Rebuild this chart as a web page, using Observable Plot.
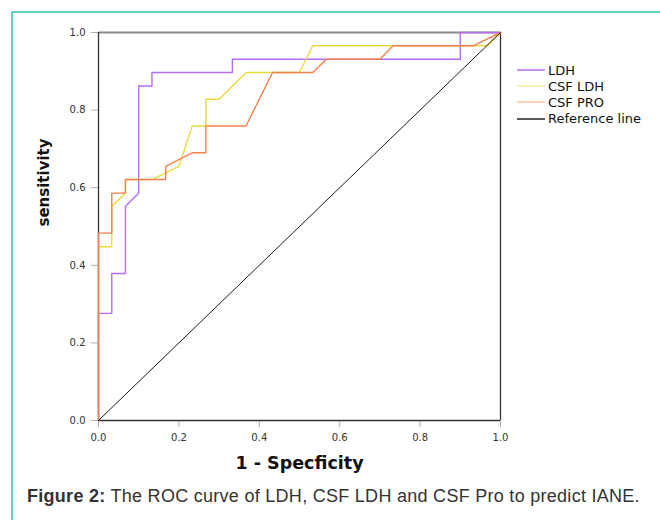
<!DOCTYPE html>
<html>
<head>
<meta charset="utf-8">
<script src="https://cdn.jsdelivr.net/npm/d3@7"></script>
<script src="https://cdn.jsdelivr.net/npm/@observablehq/plot@0.6"></script>
<style>
  html, body { margin: 0; padding: 0; background: #fff; width: 660px; height: 520px; overflow: hidden; position: relative; }
  #border { position: absolute; left: 11px; top: 11px; width: 700px; height: 600px; border-left: 2px solid #5ed6c3; border-top: 2px solid #5ed6c3; }
  #chart { position: absolute; left: 0; top: 0; }
  #legend { position: absolute; left: 517px; top: 62px; font-family: "DejaVu Sans", sans-serif; font-size: 13px; color: #111; }
  #legend .row { height: 16.2px; display: flex; align-items: center; }
  #legend svg { margin-right: 3px; }
  #caption { position: absolute; left: 27px; top: 486px; font-family: "Liberation Sans", Arial, sans-serif; font-size: 18px; letter-spacing: 0.28px; color: #333; white-space: nowrap; }
</style>
</head>
<body>
<div id="border"></div>
<div id="chart"></div>
<div id="legend"></div>
<div id="caption"><b>Figure 2:</b> The ROC curve of LDH, CSF LDH and CSF Pro to predict IANE.</div>
<script>
const seriesNames = ["LDH", "CSF LDH", "CSF PRO", "Reference line"];
const seriesColors = ["#b36cf5", "#e9dc3c", "#f5804f", "#000000"];
const legendColors = ["#a05ce8", "#f1eb8a", "#ffb39e", "#000000"];

const ldhX = [0, 0, 0.033, 0.033, 0.067, 0.067, 0.1, 0.1, 0.133, 0.133, 0.333, 0.333, 0.9, 0.9, 1];
const ldhY = [0, 0.276, 0.276, 0.379, 0.379, 0.552, 0.586, 0.862, 0.862, 0.897, 0.897, 0.931, 0.931, 1, 1];

const csfLdhX = [0, 0, 0.033, 0.033, 0.067, 0.067, 0.133, 0.2, 0.233, 0.267, 0.267, 0.3, 0.367, 0.5, 0.533, 0.967, 1];
const csfLdhY = [0, 0.448, 0.448, 0.552, 0.586, 0.621, 0.621, 0.655, 0.759, 0.759, 0.828, 0.828, 0.897, 0.897, 0.966, 0.966, 1];

const csfProX = [0, 0, 0.033, 0.033, 0.067, 0.067, 0.167, 0.167, 0.233, 0.267, 0.267, 0.367, 0.433, 0.533, 0.567, 0.7, 0.733, 0.933, 1];
const csfProY = [0, 0.483, 0.483, 0.586, 0.586, 0.621, 0.621, 0.655, 0.69, 0.69, 0.759, 0.759, 0.897, 0.897, 0.931, 0.931, 0.966, 0.966, 1];

const refX = [0, 1];
const refY = [0, 1];

const tickValues = [0, 0.2, 0.4, 0.6, 0.8, 1.0];
const xTitle = "1 - Specficity";
const yTitle = "sensitivity";

const pts = (xs, ys) => xs.map((x, i) => ({x, y: ys[i]}));

const plot = Plot.plot({
  width: 660,
  height: 480,
  marginLeft: 98,
  marginRight: 160,
  marginTop: 32,
  marginBottom: 60,
  style: { fontFamily: "DejaVu Sans, sans-serif", fontSize: "10px", color: "#333", background: "transparent" },
  x: { domain: [0, 1] },
  y: { domain: [0, 1] },
  marks: [
    Plot.axisX({ ticks: tickValues, tickFormat: d3.format(".1f"), tickSize: 7, tickPadding: 6, stroke: "#b0b0b0", fill: "#333", label: null }),
    Plot.axisY({ ticks: tickValues, tickFormat: d3.format(".1f"), tickSize: 7, tickPadding: 6, stroke: "#b0b0b0", fill: "#333", label: null }),
    Plot.ruleY([1], { stroke: "#8a8a8a", strokeWidth: 2 }),
    Plot.ruleX([1], { stroke: "#333", strokeWidth: 1.3 }),
    Plot.ruleY([0], { stroke: "#333", strokeWidth: 1.3 }),
    Plot.ruleX([0], { stroke: "#333", strokeWidth: 1.3 }),
    Plot.line(pts(ldhX, ldhY), { x: "x", y: "y", stroke: seriesColors[0], strokeWidth: 1.4 }),
    Plot.line(pts(csfLdhX, csfLdhY), { x: "x", y: "y", stroke: seriesColors[1], strokeWidth: 1.4 }),
    Plot.line(pts(csfProX, csfProY), { x: "x", y: "y", stroke: seriesColors[2], strokeWidth: 1.4 }),
    Plot.line(pts(refX, refY), { x: "x", y: "y", stroke: seriesColors[3], strokeWidth: 0.9 }),
    Plot.text([xTitle], { frameAnchor: "bottom", dy: 48, text: d => d, fontSize: 17.5, fontWeight: "bold", fill: "#111" }),
    Plot.text([yTitle], { frameAnchor: "left", dx: -54, rotate: -90, text: d => d, fontSize: 15, fontWeight: "bold", fill: "#111" })
  ]
});
document.getElementById("chart").appendChild(plot);

const legend = document.getElementById("legend");
seriesNames.forEach((name, i) => {
  const row = document.createElement("div");
  row.className = "row";
  row.innerHTML = `<svg width="28" height="4"><line x1="0" x2="28" y1="2" y2="2" stroke="${legendColors[i]}" stroke-width="1.3"/></svg><span>${name}</span>`;
  legend.appendChild(row);
});
</script>
</body>
</html>
